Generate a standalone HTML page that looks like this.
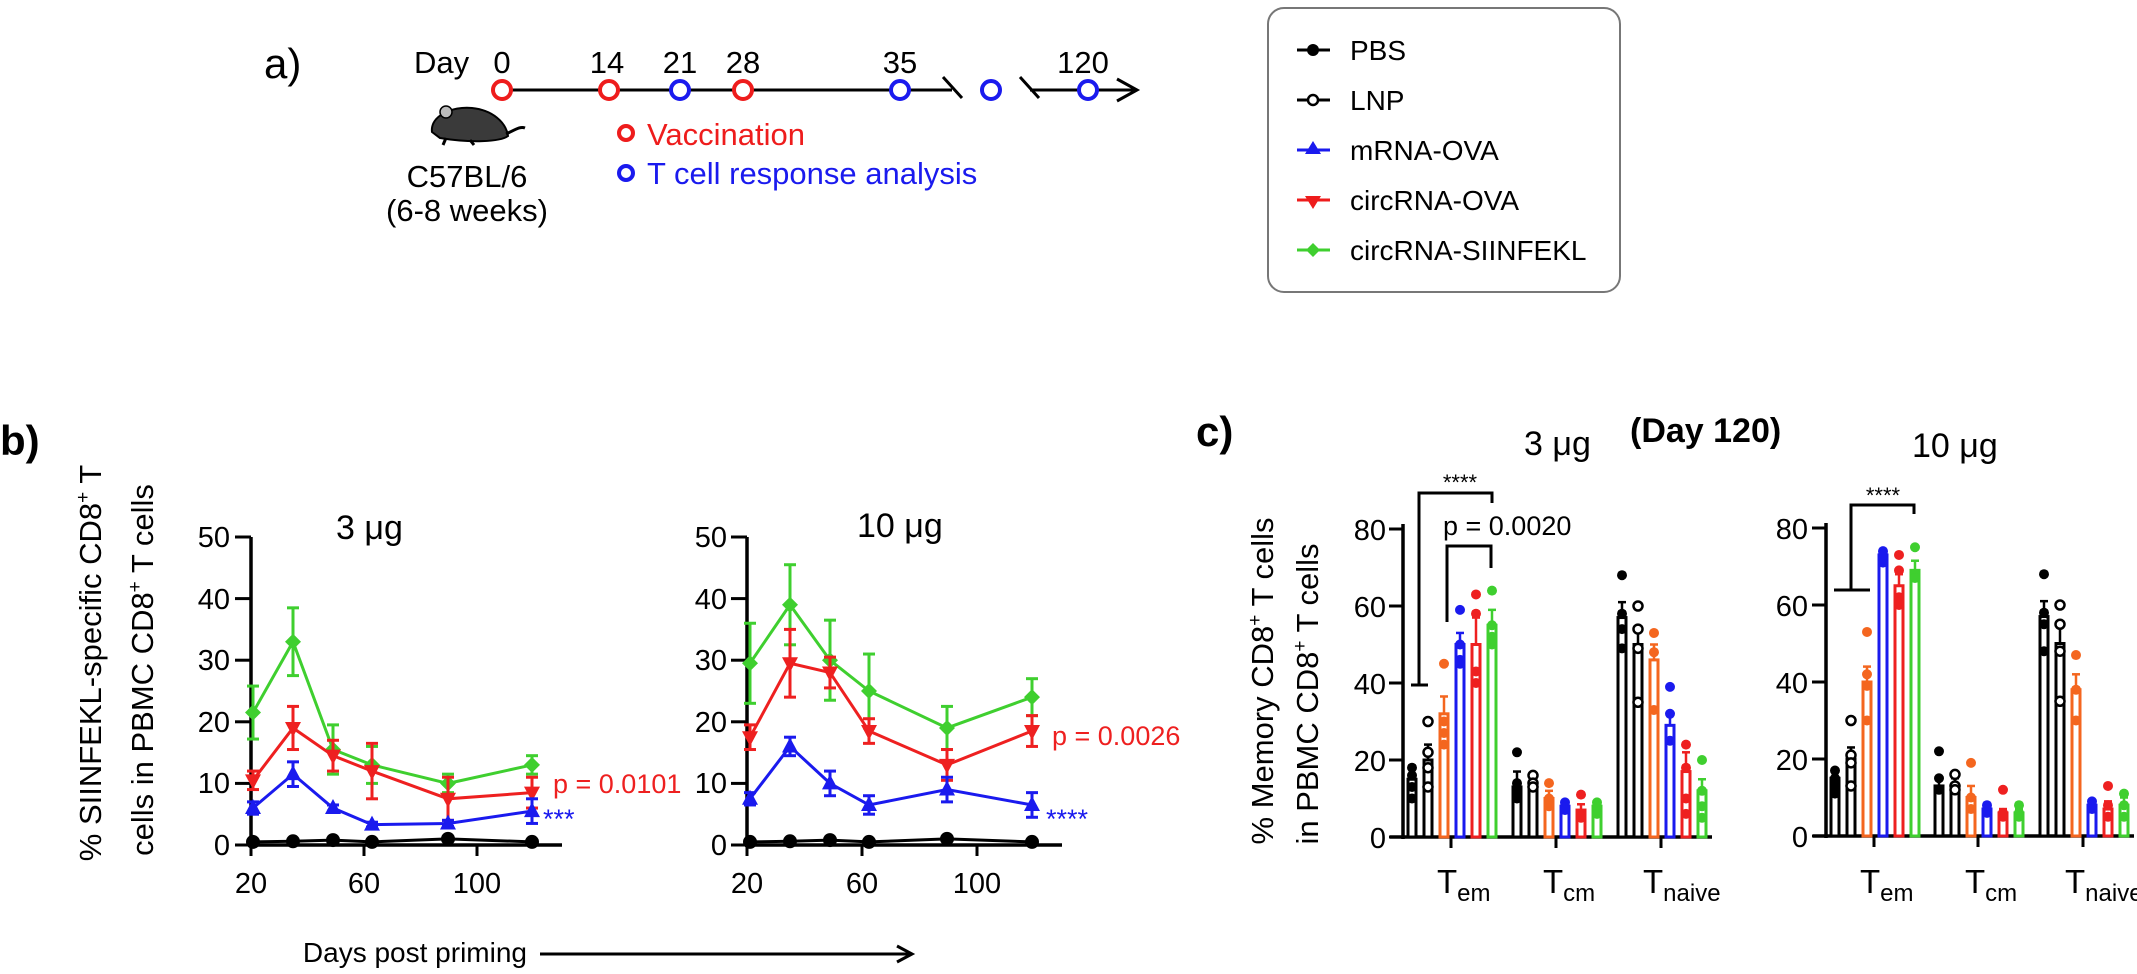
<!DOCTYPE html>
<html><head><meta charset="utf-8"><style>
html,body{margin:0;padding:0;background:#fff;}
svg{display:block;font-family:"Liberation Sans",Arial,sans-serif;}
</style></head><body>
<svg id="s" width="2137" height="974" viewBox="0 0 2137 974" xmlns="http://www.w3.org/2000/svg">
<rect width="2137" height="974" fill="#fff"/>
<!-- Panel a -->
<text x="264" y="78" font-size="42">a)</text>
<text x="414" y="73" font-size="31">Day</text>
<g font-size="31" text-anchor="middle">
<text x="502" y="73">0</text><text x="607" y="73">14</text><text x="680" y="73">21</text><text x="743" y="73">28</text><text x="900" y="73">35</text><text x="1083" y="73">120</text>
</g>
<g stroke="#000" stroke-width="3" fill="none">
<line x1="502" y1="90" x2="952" y2="90"/>
<line x1="943" y1="77" x2="962" y2="98"/>
<line x1="1020" y1="77" x2="1039" y2="98"/>
<line x1="1030" y1="90" x2="1134" y2="90"/>
<polyline points="1117,79 1137,90 1117,101"/>
</g>
<g fill="#fff" stroke-width="4">
<circle cx="502" cy="90" r="9" stroke="#ee1c1c"/>
<circle cx="609" cy="90" r="9" stroke="#ee1c1c"/>
<circle cx="680" cy="90" r="9" stroke="#1a1aee"/>
<circle cx="743" cy="90" r="9" stroke="#ee1c1c"/>
<circle cx="900" cy="90" r="9" stroke="#1a1aee"/>
<circle cx="991" cy="90" r="9" stroke="#1a1aee"/>
<circle cx="1088" cy="90" r="9" stroke="#1a1aee"/>
<circle cx="626" cy="133" r="7" stroke="#ee1c1c"/>
<circle cx="626" cy="173" r="7" stroke="#1a1aee"/>
</g>
<!-- mouse -->
<g>
<path d="M432,132 C430,116 452,106 472,108 C492,110 506,122 508,136 C500,142 470,143 440,138 Z" fill="#3a3a3a" stroke="#000" stroke-width="2"/>
<circle cx="446" cy="112" r="6" fill="#bbb" stroke="#000" stroke-width="1.5"/>
<path d="M506,134 C515,130 520,126 525,128" stroke="#000" stroke-width="3" fill="none"/>
<line x1="446" y1="138" x2="443" y2="145" stroke="#000" stroke-width="3"/>
<line x1="470" y1="140" x2="474" y2="145" stroke="#000" stroke-width="3"/>
</g>
<text x="467" y="187" font-size="31" text-anchor="middle">C57BL/6</text>
<text x="467" y="221" font-size="31" text-anchor="middle">(6-8 weeks)</text>
<text x="647" y="145" font-size="31" fill="#ee1c1c">Vaccination</text>
<text x="647" y="184" font-size="31" fill="#1a1aee">T cell response analysis</text>
<!-- legend -->
<rect x="1268" y="8" width="352" height="284" rx="16" fill="#fff" stroke="#777" stroke-width="2"/>
<g font-size="28">
<text x="1350" y="60">PBS</text><text x="1350" y="110">LNP</text><text x="1350" y="160">mRNA-OVA</text><text x="1350" y="210">circRNA-OVA</text><text x="1350" y="260">circRNA-SIINFEKL</text>
</g>
<g stroke-width="3">
<line x1="1297" y1="50" x2="1330" y2="50" stroke="#000"/><circle cx="1313" cy="50" r="6" fill="#000"/>
<line x1="1297" y1="100" x2="1330" y2="100" stroke="#000"/><circle cx="1313" cy="100" r="5" fill="#fff" stroke="#000" stroke-width="2.5"/>
<line x1="1297" y1="150" x2="1330" y2="150" stroke="#1a1aee"/><polygon points="1313,141 1321,154 1305,154" fill="#1a1aee"/>
<line x1="1297" y1="200" x2="1330" y2="200" stroke="#ee1c1c"/><polygon points="1313,209 1321,196 1305,196" fill="#ee1c1c"/>
<line x1="1297" y1="250" x2="1330" y2="250" stroke="#3fcf2f"/><polygon points="1313,243 1320,250 1313,257 1306,250" fill="#3fcf2f"/>
</g>
<!-- Panel b -->
<text x="0" y="455" font-size="42" font-weight="bold">b)</text>
<text transform="translate(101,663) rotate(-90)" font-size="31" text-anchor="middle">% SIINFEKL-specific CD8<tspan font-size="19" dy="-12">+</tspan><tspan dy="12"> T</tspan></text>
<text transform="translate(153,670) rotate(-90)" font-size="31" text-anchor="middle">cells in PBMC CD8<tspan font-size="19" dy="-12">+</tspan><tspan dy="12"> T cells</tspan></text>
<text x="336" y="539" font-size="34">3 μg</text>
<text x="857" y="537" font-size="34">10 μg</text>
<g font-size="29" text-anchor="end">
<text x="230" y="547">50</text><text x="230" y="609">40</text><text x="230" y="670">30</text><text x="230" y="732">20</text><text x="230" y="793">10</text><text x="230" y="855">0</text>
<text x="727" y="547">50</text><text x="727" y="609">40</text><text x="727" y="670">30</text><text x="727" y="732">20</text><text x="727" y="793">10</text><text x="727" y="855">0</text>
</g>
<g font-size="29" text-anchor="middle">
<text x="251" y="893">20</text><text x="364" y="893">60</text><text x="477" y="893">100</text>
<text x="747" y="893">20</text><text x="862" y="893">60</text><text x="977" y="893">100</text>
</g>
<text x="553" y="793" font-size="27" fill="#ee2020">p = 0.0101</text>
<text x="543" y="828" font-size="27" fill="#1a1aee">***</text>
<text x="1052" y="745" font-size="27" fill="#ee2020">p = 0.0026</text>
<text x="1046" y="828" font-size="27" fill="#1a1aee">****</text>
<text x="527" y="962" font-size="28" text-anchor="end">Days post priming</text>
<g stroke="#000" stroke-width="3" fill="none"><line x1="540" y1="954" x2="910" y2="954"/><polyline points="897,946 912,954 897,962"/></g>
<!-- Panel c -->
<text x="1196" y="446" font-size="42" font-weight="bold">c)</text>
<text x="1524" y="455" font-size="34">3 μg</text>
<text x="1630" y="442" font-size="34" font-weight="bold">(Day 120)</text>
<text x="1912" y="457" font-size="34">10 μg</text>
<text transform="translate(1273,681) rotate(-90)" font-size="31" text-anchor="middle">% Memory CD8<tspan font-size="19" dy="-12">+</tspan><tspan dy="12"> T cells</tspan></text>
<text transform="translate(1318,694) rotate(-90)" font-size="31" text-anchor="middle">in PBMC CD8<tspan font-size="19" dy="-12">+</tspan><tspan dy="12"> T cells</tspan></text>
<g font-size="29" text-anchor="end">
<text x="1386" y="540">80</text><text x="1386" y="617">60</text><text x="1386" y="694">40</text><text x="1386" y="771">20</text><text x="1386" y="848">0</text>
<text x="1808" y="539">80</text><text x="1808" y="616">60</text><text x="1808" y="693">40</text><text x="1808" y="770">20</text><text x="1808" y="847">0</text>
</g>
<g font-size="33">
<text x="1437" y="893">T<tspan font-size="24" dy="8">em</tspan></text>
<text x="1543" y="893">T<tspan font-size="24" dy="8">cm</tspan></text>
<text x="1643" y="893">T<tspan font-size="24" dy="8">naive</tspan></text>
<text x="1860" y="893">T<tspan font-size="24" dy="8">em</tspan></text>
<text x="1965" y="893">T<tspan font-size="24" dy="8">cm</tspan></text>
<text x="2065" y="893">T<tspan font-size="24" dy="8">naive</tspan></text>
</g>
<text x="1460" y="490" font-size="22" text-anchor="middle">****</text>
<text x="1443" y="535" font-size="27">p = 0.0020</text>
<text x="1883" y="503" font-size="22" text-anchor="middle">****</text>
<g stroke="#000" stroke-width="3" fill="none">
<polyline points="1419,685 1419,493 1492,493 1492,503"/><line x1="1411" y1="685" x2="1428" y2="685"/>
<polyline points="1447,622 1447,546 1491,546 1491,568"/>
<polyline points="1851,590 1851,505 1914,505 1914,514"/><line x1="1834" y1="590" x2="1870" y2="590"/>
</g>
<g id="dyn"></g>
</svg>
<script>
(function(){
var NS="http://www.w3.org/2000/svg",g=document.getElementById("dyn");
function el(t,a){var e=document.createElementNS(NS,t);for(var k in a)e.setAttribute(k,a[k]);g.appendChild(e);return e;}
function ln(x1,y1,x2,y2,c,w){el("line",{x1:x1,y1:y1,x2:x2,y2:y2,stroke:c,"stroke-width":w||3});}
var G="#3fcf2f",R="#ee2020",B="#1a1aee",K="#000",O="#f4661f";
function baxes(ax,end){
 ln(ax,537,ax,847,K,3.5);ln(ax-2,845,end,845,K,3.5);
 for(var i=0;i<=5;i++){var y=845-i*61.6;ln(ax-16,y,ax,y,K,3);}
 ln(ax,845,ax,856,K,3);
}
baxes(251,562);baxes(747,1062);
ln(364,845,364,856,K,3);ln(477,845,477,856,K,3);ln(862,845,862,856,K,3);ln(977,845,977,856,K,3);
function marker(x,y,c,type){
 if(type=="d")el("polygon",{points:[x,y-8,x+8,y,x,y+8,x-8,y].join(","),fill:c});
 else if(type=="u")el("polygon",{points:[x,y-9,x+8,y+6,x-8,y+6].join(","),fill:c});
 else if(type=="v")el("polygon",{points:[x,y+9,x+8,y-6,x-8,y-6].join(","),fill:c});
 else if(type=="o")el("circle",{cx:x,cy:y,r:7,fill:c});
}
function series(ax,offs,vals,errs,c,type){
 var pts=[];
 for(var i=0;i<vals.length;i++){var x=ax+offs[i],y=845-vals[i]*6.16;pts.push(x+","+y);
  if(errs){var e=errs[i]*6.16;ln(x,y-e,x,y+e,c,3);ln(x-6,y-e,x+6,y-e,c,3);ln(x-6,y+e,x+6,y+e,c,3);}}
 el("polyline",{points:pts.join(" "),fill:"none",stroke:c,"stroke-width":3});
 for(var i=0;i<vals.length;i++)marker(ax+offs[i],845-vals[i]*6.16,c,type);
}
var oL=[2,42,82,121,197,281],oR=[3,43,83,122,200,285];
series(251,oL,[0.5,0.6,0.8,0.5,1,0.5],null,K,"o");
series(251,oL,[21.5,33,15.5,13,10,13],[4.3,5.5,4,3,1.5,1.5],G,"d");
series(251,oL,[10.5,19,14.5,12,7.5,8.5],[1.5,3.5,2.5,4.5,3.5,2.5],R,"v");
series(251,oL,[6,11.5,6,3.3,3.5,5.5],[1,2,0.5,0.4,0.5,2],B,"u");
series(747,oR,[0.5,0.6,0.8,0.5,1,0.5],null,K,"o");
series(747,oR,[29.5,39,30,25,19,24],[6.5,6.5,6.5,6,3.5,3],G,"d");
series(747,oR,[17.5,29.5,28,18.5,13,18.5],[2,5.5,2.5,2,2.5,2.5],R,"v");
series(747,oR,[7.5,16,10,6.5,9,6.5],[1,1.5,2,1.5,2,2],B,"u");
var cols=[K,K,O,B,R,G];
function cchart(ax,y0,ticks,end,data){
 var s=3.85;
 ln(ax,y0-313,ax,y0+2,K,3.5);ln(ax-13,y0,end,y0,K,3.5);
 for(var i=0;i<=4;i++){var y=y0-i*20*s;ln(ax-14,y,ax,y,K,3);}
 for(var gi=0;gi<3;gi++){
  var tx=ticks[gi];ln(tx,y0,tx,y0+11,K,3);
  for(var b=0;b<6;b++){
   var d=data[gi][b],cx=tx-39+16*b,c=cols[b],h=d[0]*s;
   el("rect",{x:cx-4,y:y0-h,width:8,height:h,fill:"#fff",stroke:c,"stroke-width":3});
   var e=d[1]*s;ln(cx,y0-h,cx,y0-h-e,c,2.5);ln(cx-4,y0-h-e,cx+4,y0-h-e,c,2.5);
   for(var k=0;k<d[2].length;k++){var yy=y0-d[2][k]*s;
    if(b==1)el("circle",{cx:cx,cy:yy,r:4.5,fill:"#fff",stroke:K,"stroke-width":2.5});
    else el("circle",{cx:cx,cy:yy,r:5,fill:c});}
  }
 }
}
cchart(1403,837,[1451,1556,1661],1712,[
 [[15,3,[18,16,13,10]],[20,4,[30,22,18,13]],[32,4.5,[45,30,27,24]],[50,3,[59,50,46,45]],[50,7,[63,58,43,40]],[55,4,[64,55,52,50]]],
 [[13,4,[22,14,12,10]],[14,2,[16,14,13]],[10,2,[14,10,8]],[8,1,[9,8,7]],[7,1.5,[11,6,5]],[8,1,[9,8,6]]],
 [[57,4,[68,58,54,49]],[50,4,[60,54,49,35]],[46,4,[53,48,33]],[29,3,[39,32,25]],[17,5,[24,18,10,6]],[12,3,[20,12,8,5]]]
]);
cchart(1826,836,[1874,1978,2083],2134,[
 [[15,2,[17,15,13,11]],[20,3,[30,21,19,13]],[40,4,[53,42,39,30]],[73,1,[74,73,72,71]],[65,3,[73,69,62,60]],[69,2.5,[75,68,67]]],
 [[13,2,[22,15,12]],[13,2,[16,13,12]],[10,3,[19,10,7]],[7,1,[8,7,6]],[6,1,[12,6,5]],[6,1,[8,6,5]]],
 [[57,4,[68,58,55,48]],[50,5,[60,55,48,35]],[38,4,[47,38,30]],[8,1,[9,8,7]],[7,2,[13,8,5]],[8,2,[11,8,5]]]
]);
})();
</script>
</body></html>
